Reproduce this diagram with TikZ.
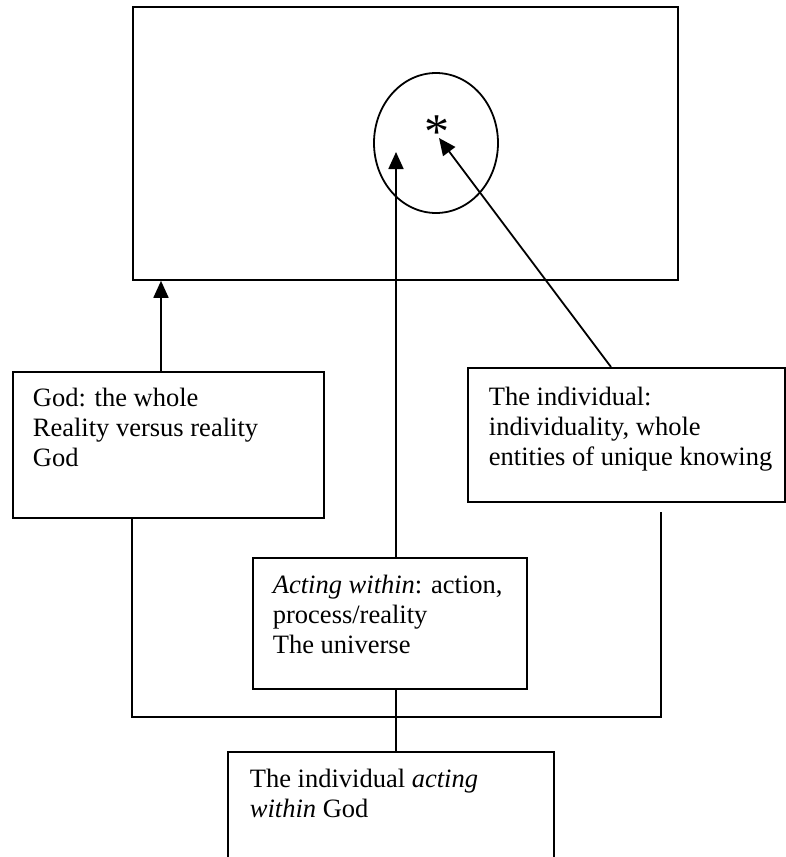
\documentclass[tikz,border=0pt]{standalone}
\usepackage{fontspec}
\setmainfont{Liberation Serif}
\usetikzlibrary{arrows.meta,shapes.geometric}
\begin{document}
\begin{tikzpicture}[x=1pt,y=-1pt,
  line width=1.8pt,
  box/.style={draw, rectangle, inner sep=0pt, anchor=north west},
  % anchored at the baseline of the last line
  boxtext/.style={anchor=base west, align=left, inner sep=0pt,
    font=\fontsize{26.5}{30}\selectfont},
  arr/.style={-{Triangle[length=17pt,width=15pt]}}
]
\clip (0,0) rectangle (786,857);

% frame, circle and star
\node[box, minimum width=545pt, minimum height=273pt] (whole) at (132,6) {};
\node[draw, ellipse, minimum width=124pt, minimum height=140pt, inner sep=0pt] (circ) at (436,143) {};
\node[inner sep=0pt, anchor=base, font=\fontsize{50}{50}\selectfont] (star) at (437,148) {*};

% boxes
\node[box, minimum width=311pt, minimum height=146pt] (god) at (12,371) {};
\node[box, minimum width=317pt, minimum height=134pt] (indiv) at (467,367) {};
\node[box, minimum width=274pt, minimum height=131pt] (act) at (252,557) {};
\node[box, minimum width=326pt, minimum height=150pt] (indb) at (227,751) {};

% texts
\node[boxtext] (godtext) at (32,466) {God: the whole\\Reality versus reality\\God};
\node[boxtext] (indtext) at (488,465) {The individual:\\individuality, whole\\entities of unique knowing};
\node[boxtext] (acttext) at (272,653) {\textit{Acting within}: action,\\process/reality\\The universe};
\node[boxtext] (indbtext) at (249,817) {The individual \textit{acting}\\\textit{within} God};

% arrows
\coordinate (gtop) at ([xshift=149pt]god.north west);
\draw[arr] (gtop) -- (gtop |- whole.south);

\coordinate (acttop) at ([xshift=144pt]act.north west);
\coordinate (inner) at (396,152);
\draw[arr] (acttop) -- (inner);

\coordinate (indtop) at ([xshift=144pt]indiv.north west);
\coordinate (startip) at (439,138);
\draw[arr] (indtop) -- (startip);

% joining lines
\coordinate (gfoot) at ([xshift=120pt]god.south west);
\coordinate (ifoot) at (661,512);
\coordinate (junc) at (396,717);
\draw (gfoot) -- (gfoot |- junc) -| (ifoot);
\draw ([xshift=144pt]act.south west) -- ([xshift=169pt]indb.north west);
\end{tikzpicture}
\end{document}
